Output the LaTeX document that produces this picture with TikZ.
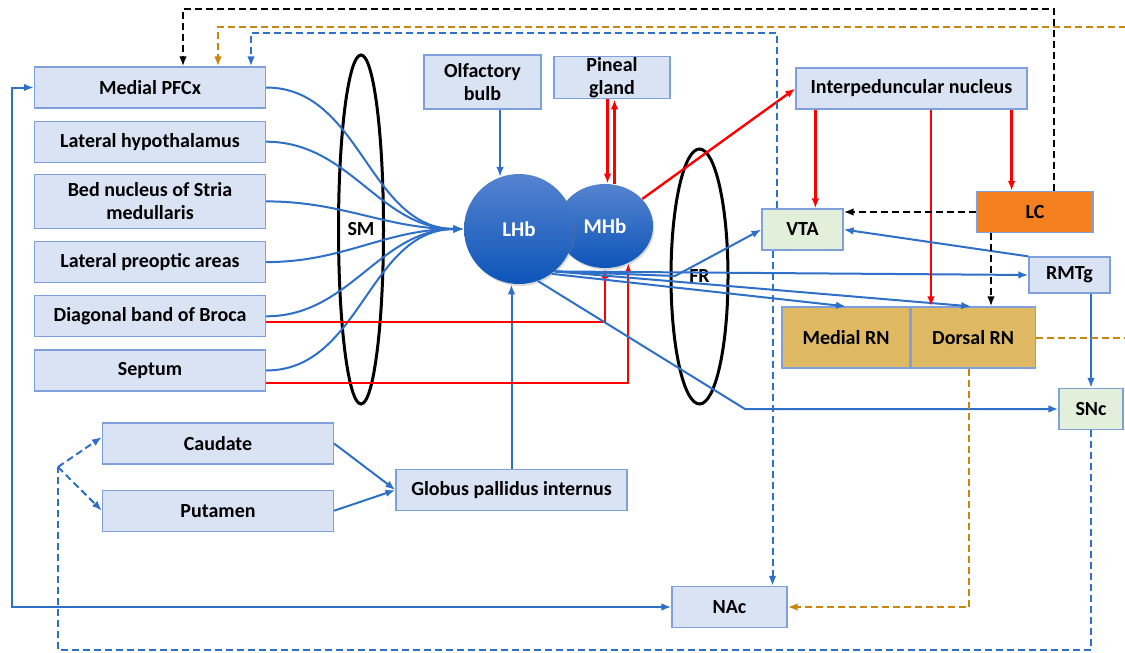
\documentclass[tikz,border=0pt]{standalone}
\usepackage{fontspec}
\setmainfont{Carlito}
\usetikzlibrary{arrows.meta, positioning, shapes.geometric, shadows}

\definecolor{boxfill}{HTML}{DAE3F3}
\definecolor{boxline}{HTML}{7FA0DA}
\definecolor{greenfill}{HTML}{E2EFDA}
\definecolor{rnfill}{HTML}{DFB864}
\definecolor{lcfill}{HTML}{F4801F}
\definecolor{sigblue}{HTML}{2E6FC8}
\definecolor{inhred}{HTML}{FF0000}
\definecolor{sergold}{HTML}{C8870C}
\definecolor{habtop}{HTML}{5583D0}
\definecolor{habbot}{HTML}{0D55B8}

\tikzset{
  area/.style={draw=boxline, fill=boxfill, line width=0.6pt, align=center,
    minimum width=115.5pt, minimum height=20.5pt, inner sep=1pt,
    font=\bfseries\fontsize{10}{11.5}\selectfont},
  midbr/.style={area, fill=greenfill, minimum width=40.5pt},
  raphe/.style={area, fill=rnfill, minimum width=64pt, minimum height=30.5pt},
  hab/.style={top color=habtop, bottom color=habbot, draw=none, inner sep=0pt,
    text=white, font=\bfseries\fontsize{10.5}{12}\selectfont,
    drop shadow={opacity=0.3, shadow xshift=0.6pt, shadow yshift=-1pt}},
  ring/.style={ellipse, draw, line width=1.5pt, inner sep=0pt,
    font=\bfseries\fontsize{10}{11.5}\selectfont},
  sig/.style={draw=sigblue, line width=1pt},
  inh/.style={draw=inhred, line width=1.2pt},
  dop/.style={draw=sigblue, line width=1pt, dash pattern=on 3.5pt off 2pt},
  ser/.style={draw=sergold, line width=1pt, dash pattern=on 3.5pt off 2pt},
  ctl/.style={draw=black, line width=1pt, dash pattern=on 3.5pt off 2pt}
}

\begin{document}
\begin{tikzpicture}[x=0.5pt, y=-0.5pt, >={Latex[length=5pt,width=3.8pt]}]
\useasboundingbox (0,0) rectangle (1125,653);

% inputs to the habenula
\node[area] (pfc) at (150,87.5) {Medial PFCx};
\node[area, below=6pt of pfc] (lh) {Lateral hypothalamus};
\node[area, below=5.5pt of lh, minimum height=27pt] (bed) {Bed nucleus of Stria\\medullaris};
\node[area, below=6pt of bed] (lpo) {Lateral preoptic areas};
\node[area, below=6pt of lpo] (dbb) {Diagonal band of Broca};
\node[area, below=6pt of dbb] (sep) {Septum};

\node[area] (cau) at (218,443.5) {Caudate};
\node[area, below=12.5pt of cau] (put) {Putamen};
\node[area] (gpi) at (511.5,490) {Globus pallidus internus};
\node[area, minimum width=57.5pt] (nac) at (729.5,607) {NAc};
\node[area, minimum width=58.5pt, minimum height=27pt] (olf) at (482.5,82) {Olfactory\\bulb};
\node[area, minimum width=58pt, inner sep=0.5pt] (pin) at (612,77.5) {Pineal\\gland};

% midbrain and brainstem targets
\node[area] (ipn) at (911.5,88.5) {Interpeduncular nucleus};
\node[area, fill=lcfill, minimum width=58pt] (lc) at (1035,212) {LC};
\node[midbr] (vta) at (802.5,229.5) {VTA};
\node[area, minimum width=40.5pt, minimum height=18pt] (rmtg) at (1069.5,275) {RMTg};
\node[raphe] (mrn) at (846,337.5) {Medial RN};
\node[raphe, right=0pt of mrn, minimum width=62pt] (drn) {Dorsal RN};
\node[midbr, minimum width=32pt] (snc) at (1091,409) {SNc};

% fibre bundles
\node[ring, minimum width=22.5pt, minimum height=174.5pt] (sm) at (361,229.5) {SM};
\node[ring, minimum width=28.5pt, minimum height=127.5pt] (fr) at (699.5,276.5) {FR};

% habenula
\node[hab, ellipse, minimum width=48pt, minimum height=42pt] (mhb) at (605,226) {MHb};
\node[hab, circle, minimum size=55pt] (lhb) at (519,229) {LHb};

% corners of the long loops
\coordinate (kx) at (183,9);
\coordinate (ox) at (218,27);
\coordinate (oe) at (1140,27);
\coordinate (bx) at (251,33);
\coordinate (lb) at (12,607);
\coordinate (fork) at (58,467);
\coordinate (fb) at (58,650);
\coordinate (frv) at (675,276);
\coordinate (sk) at (745,409);

% afferents
\foreach \src in {pfc,lh,bed,lpo,dbb,sep}
  \draw[sig,->] (\src.east) to[out=0,in=180] (lhb.west);
\draw[sig,->] (lhb.110 |- olf.south) -- (lhb.110);
\draw[sig,->] (gpi.north) -- (gpi.north |- lhb.south);
\draw[sig,->] (cau.east) -- (gpi.west);
\draw[sig,->] (put.east) -- (gpi.west);
\draw[inh,->] ([yshift=-2.75pt]dbb.east) -| (mhb.-90);
\draw[inh,->] ([yshift=-6.25pt]sep.east) -| (mhb.-58);
\draw[inh,->] ([xshift=-2.25pt]pin.south) -- ([xshift=-2.25pt]pin.south |- mhb.north);
\draw[inh,->] ([xshift=1.25pt]pin.south |- mhb.north) -- ([xshift=1.25pt]pin.south);

% efferents
\draw[inh,->] (mhb.36) -- (ipn.west);
\draw[sig,->] (lhb.-50) -- (frv) -- (vta.west);
\draw[sig,->] (lhb.-50) -- (rmtg.west);
\draw[sig,->] (lhb.-54) -- (mrn.north);
\draw[sig,->] (lhb.-50) -- ([xshift=-1pt]drn.north);
\draw[sig,->] (lhb.-70) -- (sk) -- (snc.west);

% midbrain links
\draw[inh,->] ([xshift=10pt]ipn.south west) -- ([xshift=10pt]ipn.south west |- vta.north);
\draw[inh,->] ([xshift=9.75pt]ipn.south) -- ([xshift=9.75pt]ipn.south |- drn.north);
\draw[inh,->] ([xshift=-8pt]ipn.south east) -- ([xshift=-8pt]ipn.south east |- lc.north);
\draw[sig,->] (rmtg.north west) -- (vta.east);
\draw[sig,->] (snc.north |- rmtg.south) -- (snc.north);
\draw[ctl,->] (lc.west) -- (lc.west -| vta.east);
\draw[ctl,->] ([xshift=-22pt]lc.south) -- ([xshift=-22pt]lc.south |- drn.north);

% long loops
\draw[ctl,->] ([xshift=9.5pt]lc.north) |- (kx) -- (kx |- pfc.north);
\draw[ser,->] (drn.east) -| (oe) -- (ox) -- (ox |- pfc.north);
\draw[ser,->] ([xshift=-2pt]drn.south) |- (nac.east);
\draw[dop,->] ([xshift=-13pt]vta.north) |- (bx) -- (bx |- pfc.north);
\draw[dop,->] ([xshift=-15pt]vta.south) -- ([xshift=-15pt]vta.south |- nac.north);
\draw[dop] (snc.south) |- (fb) -- (fork);
\draw[dop,->] (fork) -- ([yshift=3.25pt]cau.west);
\draw[dop,->] (fork) -- (put.west);
\draw[sig,<->] (pfc.west) -| (lb) -- (nac.west);

\end{tikzpicture}
\end{document}
